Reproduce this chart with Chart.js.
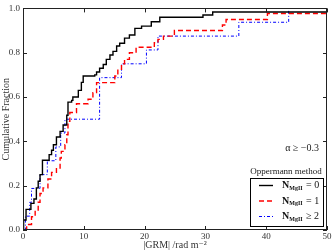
<!DOCTYPE html>
<html>
<head>
<meta charset="utf-8">
<script src="https://cdn.jsdelivr.net/npm/chart.js@4"></script>
<style>
html,body{margin:0;padding:0;background:#fff;}
</style>
</head>
<body>
<canvas id="cdfChart" width="334" height="251"></canvas>
<script>
// |GRM| values (rad m^-2) and cumulative fraction after each step
const grm0 = [0, 0.1, 0.5, 1.3, 1.8, 2.2, 2.5, 2.8, 3.2, 4.3, 4.7, 5.0, 5.5, 6.1, 6.6, 7.2, 7.4, 8.0, 8.2, 9.1, 9.6, 9.9, 11.8, 12.1, 12.6, 13.2, 13.7, 14.3, 14.8, 15.4, 15.9, 16.7, 17.5, 18.4, 19.5, 21.1, 22.5, 29.6, 31.2, 50];
const frac0 = [0, 0.045, 0.093, 0.12, 0.14, 0.19, 0.22, 0.25, 0.315, 0.34, 0.36, 0.385, 0.42, 0.445, 0.474, 0.518, 0.577, 0.585, 0.6, 0.63, 0.666, 0.695, 0.7, 0.713, 0.73, 0.747, 0.77, 0.79, 0.806, 0.83, 0.843, 0.866, 0.88, 0.91, 0.92, 0.94, 0.96, 0.97, 0.984, 0.984];

const grm1 = [0.4, 0.6, 1.4, 2.0, 2.5, 2.8, 3.3, 4.1, 4.7, 5.5, 6.1, 6.3, 6.9, 7.2, 7.4, 7.7, 8.8, 10.7, 11.5, 12.1, 15.1, 15.6, 16.2, 16.7, 17.5, 18.6, 21.6, 22.2, 23.1, 24.9, 32.8, 33.4, 40.2, 50];
const frac1 = [0, 0.025, 0.06, 0.09, 0.125, 0.165, 0.19, 0.23, 0.26, 0.28, 0.325, 0.355, 0.385, 0.43, 0.49, 0.53, 0.57, 0.59, 0.62, 0.665, 0.695, 0.725, 0.75, 0.77, 0.8, 0.825, 0.845, 0.86, 0.875, 0.9, 0.925, 0.95, 0.977, 0.977];

const grm2 = [0.3, 0.4, 1.1, 1.4, 2.8, 4.0, 5.4, 6.2, 6.9, 12.6, 16.2, 20.3, 22.2, 35.5, 43.7, 50];
const frac2 = [0, 0.0625, 0.125, 0.1875, 0.25, 0.3125, 0.375, 0.4375, 0.5, 0.6875, 0.75, 0.8125, 0.875, 0.9375, 1.0, 1.0];

const xTicks = [0, 10, 20, 30, 40, 50];
const yTicks = [0.0, 0.2, 0.4, 0.6, 0.8, 1.0];
const seriesNames = ['0', '1', '2'];
const seriesOps = ['=', '=', '\u2265'];

const serif = '"Liberation Serif", "DejaVu Serif", serif';

const pts = (xs, ys) => xs.map((v, i) => ({x: v, y: ys[i]}));

// box, inward ticks on all sides, annotation and legend
const frame = {
  id: 'frame',
  afterDraw(chart) {
    const {ctx, chartArea: a, scales: {x, y}} = chart;
    ctx.save();
    ctx.strokeStyle = '#222';
    ctx.lineWidth = 1;
    ctx.beginPath();
    xTicks.forEach(v => {
      const px = Math.round(x.getPixelForValue(v)) + 0.5;
      ctx.moveTo(px, a.bottom); ctx.lineTo(px, a.bottom - 4);
      ctx.moveTo(px, a.top); ctx.lineTo(px, a.top + 4);
    });
    yTicks.forEach(v => {
      const py = Math.round(y.getPixelForValue(v)) + 0.5;
      ctx.moveTo(a.left, py); ctx.lineTo(a.left + 4, py);
      ctx.moveTo(a.right, py); ctx.lineTo(a.right - 4, py);
    });
    ctx.stroke();
    ctx.strokeRect(Math.round(a.left) + 0.5, Math.round(a.top) + 0.5, Math.round(a.right - a.left) - 1, Math.round(a.bottom - a.top) - 1);

    ctx.fillStyle = '#222';
    ctx.font = '10px ' + serif;
    ctx.textAlign = 'right';
    ctx.textBaseline = 'middle';
    ctx.fillText('\u03b1 \u2265 \u22120.3', 319, 148);

    const bx = 250, by = 178, bw = 73, bh = 48;
    ctx.textAlign = 'center';
    ctx.font = '9px ' + serif;
    ctx.fillText('Oppermann method', 286, 172);
    ctx.fillStyle = '#fff';
    ctx.fillRect(bx, by, bw, bh);
    ctx.strokeStyle = '#000';
    ctx.strokeRect(bx + 0.5, by + 0.5, bw, bh);
    chart.data.datasets.forEach((ds, i) => {
      const ry = by + 7.5 + i * 15.5;
      ctx.strokeStyle = ds.borderColor;
      ctx.lineWidth = ds.borderWidth;
      ctx.setLineDash(ds.borderDash || []);
      ctx.beginPath();
      ctx.moveTo(259, ry); ctx.lineTo(273, ry);
      ctx.stroke();
      ctx.setLineDash([]);
      ctx.fillStyle = '#111';
      ctx.textAlign = 'left';
      let tx = 282;
      ctx.font = 'bold 10px ' + serif;
      ctx.fillText('N', tx, ry);
      tx += ctx.measureText('N').width;
      ctx.font = 'bold 6px ' + serif;
      ctx.fillText('MgII', tx, ry + 2.5);
      tx += ctx.measureText('MgII').width + 1;
      ctx.font = '10px ' + serif;
      ctx.fillText(' ' + seriesOps[i] + ' ' + seriesNames[i], tx, ry);
    });
    ctx.restore();
  }
};

new Chart(document.getElementById('cdfChart').getContext('2d'), {
  type: 'line',
  data: {
    datasets: [{
      label: 'N_MgII = 0',
      data: pts(grm0, frac0),
      borderColor: '#000000',
      borderWidth: 1.4,
      stepped: 'before',
      pointRadius: 0,
      fill: false
    }, {
      label: 'N_MgII = 1',
      data: pts(grm1, frac1),
      borderColor: '#ff0000',
      borderWidth: 1.4,
      borderDash: [5, 3],
      stepped: 'before',
      pointRadius: 0,
      fill: false
    }, {
      label: 'N_MgII >= 2',
      data: pts(grm2, frac2),
      borderColor: '#0000ff',
      borderWidth: 1,
      borderDash: [3, 2, 1, 2],
      stepped: 'before',
      pointRadius: 0,
      fill: false
    }]
  },
  options: {
    responsive: false,
    animation: false,
    layout: {padding: {top: 5, right: 7, left: 0, bottom: 0}},
    plugins: {legend: {display: false}, tooltip: {enabled: false}},
    scales: {
      x: {
        type: 'linear',
        min: 0, max: 50,
        afterBuildTicks: s => { s.ticks = xTicks.map(v => ({value: v})); },
        afterFit: s => { s.height = 21; },
        grid: {display: false, drawTicks: false},
        border: {display: false},
        ticks: {font: {family: serif, size: 9}, color: '#333', padding: 1, maxRotation: 0},
        title: {display: true, text: '|GRM| /rad m\u207b\u00b2', font: {family: serif, size: 10}, color: '#333', padding: 0}
      },
      y: {
        min: 0, max: 1,
        afterBuildTicks: s => { s.ticks = yTicks.map(v => ({value: v})); },
        afterFit: s => { s.width = 23; },
        grid: {display: false, drawTicks: false},
        border: {display: false},
        ticks: {font: {family: serif, size: 9}, color: '#333', padding: 3, callback: v => v.toFixed(1)},
        title: {display: true, text: 'Cumulative Fraction', font: {family: serif, size: 10}, color: '#333', padding: 0}
      }
    }
  },
  plugins: [frame]
});
</script>
</body>
</html>
